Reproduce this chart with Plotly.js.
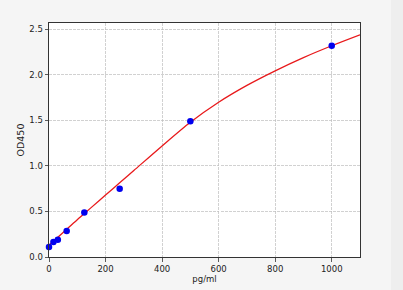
<!DOCTYPE html>
<html>
<head>
<meta charset="utf-8">
<script src="https://cdn.plot.ly/plotly-3.0.1.min.js"></script>
<style>html,body{margin:0;padding:0;background:#f5f5f5;}#chart{width:403px;height:290px;}</style>
</head>
<body>
<div id="chart"></div>
<script>
// Standard points
const stdConc = [0, 15.6, 31.25, 62.5, 125, 250, 500, 1000];
const stdOD = [0.11, 0.165, 0.19, 0.285, 0.49, 0.75, 1.49, 2.32];
// Fitted curve
const curveConc = [0, 50, 100, 150, 200, 250, 300, 400, 500, 600, 700, 800, 900, 1000, 1100];
const curveOD = [0.13, 0.27, 0.41, 0.545, 0.68, 0.815, 0.95, 1.22, 1.48, 1.70, 1.885, 2.045, 2.19, 2.32, 2.44];
const xTicks = [0, 200, 400, 600, 800, 1000];
const yTicks = [0.0, 0.5, 1.0, 1.5, 2.0, 2.5];
const yTickText = ['0.0', '0.5', '1.0', '1.5', '2.0', '2.5'];

const traces = [
  {x: curveConc, y: curveOD, mode: 'lines', line: {color: '#e8191b', width: 1.3, shape: 'spline', smoothing: 0.8}, hoverinfo: 'skip'},
  {x: stdConc, y: stdOD, mode: 'markers', marker: {color: '#0000ee', size: 6.5}, cliponaxis: false}
];
const axisCommon = {
  showline: true, mirror: true, linecolor: '#333', linewidth: 1,
  ticks: 'outside', ticklen: 3.5, tickcolor: '#333', tickwidth: 0.8,
  showgrid: true, gridcolor: '#bdbdbd', griddash: '2.5px,1.5px', gridwidth: 0.7,
  zeroline: false, tickfont: {family: 'DejaVu Sans', size: 8.5, color: '#222'}
};
const layout = {
  width: 403, height: 290,
  margin: {l: 49, r: 43, t: 23, b: 33},
  paper_bgcolor: '#f5f5f5', plot_bgcolor: '#ffffff',
  showlegend: false,
  xaxis: Object.assign({}, axisCommon, {range: [0, 1100], tickvals: xTicks,
    title: {text: 'pg/ml', font: {family: 'DejaVu Sans', size: 8.5, color: '#222'}, standoff: 3}}),
  yaxis: Object.assign({}, axisCommon, {range: [0, 2.57], tickvals: yTicks, ticktext: yTickText,
    title: {text: 'OD450', font: {family: 'DejaVu Sans', size: 9.5, color: '#222'}, standoff: 2}}),
  shapes: [{type: 'rect', xref: 'paper', yref: 'paper', x0: 1.0997, x1: 1.2, y0: -0.2, y1: 1.2,
    fillcolor: '#eeeeee', line: {width: 0}, layer: 'below'}]
};
Plotly.newPlot('chart', traces, layout, {staticPlot: true, displayModeBar: false});
</script>
</body>
</html>
